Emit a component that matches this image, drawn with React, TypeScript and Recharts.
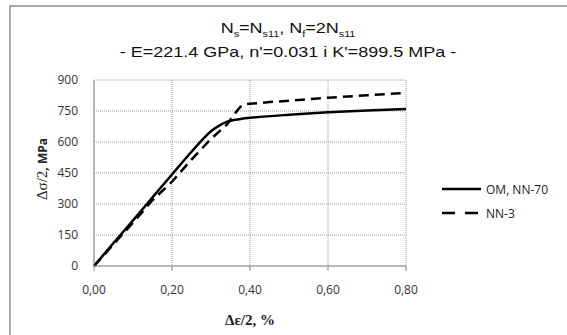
import { LineChart, Line, XAxis, YAxis, CartesianGrid, Label } from 'recharts';

// OM, NN-70 (solid)
const strainOM = [0, 0.05, 0.1, 0.15, 0.2, 0.25, 0.28, 0.3, 0.32, 0.34, 0.36, 0.38, 0.4, 0.5, 0.6, 0.7, 0.8];
const stressOM = [0, 111, 221, 332, 443, 553, 615, 652, 678, 697, 707, 713, 717, 732, 744, 753, 760];

// NN-3 (dashed)
const strainNN3 = [0, 0.05, 0.1, 0.15, 0.2, 0.25, 0.3, 0.34, 0.36, 0.375, 0.385, 0.4, 0.45, 0.5, 0.6, 0.7, 0.8];
const stressNN3 = [0, 105, 210, 318, 408, 515, 615, 683, 735, 770, 782, 785, 793, 800, 814, 826, 838];

const xTicks = [0, 0.2, 0.4, 0.6, 0.8];
const yTicks = [0, 150, 300, 450, 600, 750, 900];

const seriesNames = ['OM, NN-70', 'NN-3'];

const omData = strainOM.map((x, i) => ({ x, y: stressOM[i] }));
const nn3Data = strainNN3.map((x, i) => ({ x, y: stressNN3[i] }));

const tickFont = { fontFamily: 'Open Sans', fontSize: 12, fill: '#333' };

const YTitle = (props: any) => {
  const { viewBox } = props;
  const cx = viewBox.x + 42;
  const cy = viewBox.y + viewBox.height / 2 - 4;
  return (
    <text
      transform={`rotate(-90 ${cx} ${cy})`}
      x={cx}
      y={cy}
      textAnchor="middle"
      dominantBaseline="central"
      fill="#222"
    >
      <tspan fontFamily="Liberation Serif" fontSize={15}>Δσ/2</tspan>
      <tspan fontFamily="Open Sans" fontWeight="bold" fontSize={12}>, MPa</tspan>
    </text>
  );
};

const XTitle = (props: any) => {
  const { viewBox } = props;
  const cx = viewBox.x + viewBox.width / 2;
  const cy = viewBox.y + 54;
  return (
    <text x={cx} y={cy} textAnchor="middle" dominantBaseline="central" fill="#222"
      fontFamily="Liberation Serif" fontWeight="bold" fontSize={15}>
      Δε/2, %
    </text>
  );
};

const LegendBox = () => (
  <div style={{ position: 'absolute', left: 440, top: 177, fontFamily: 'Open Sans', fontSize: 12, color: '#222' }}>
    <div style={{ display: 'flex', alignItems: 'center', height: 24 }}>
      <svg width={46} height={6}>
        <line x1={2} y1={3} x2={41} y2={3} stroke="#000" strokeWidth={2.5} />
      </svg>
      <span>{seriesNames[0]}</span>
    </div>
    <div style={{ display: 'flex', alignItems: 'center', height: 24 }}>
      <svg width={46} height={6}>
        <line x1={2} y1={3} x2={41} y2={3} stroke="#000" strokeWidth={2.5} strokeDasharray="13 10" />
      </svg>
      <span>{seriesNames[1]}</span>
    </div>
  </div>
);

export default function App() {
  return (
    <div style={{ position: 'absolute', left: 0, top: 0, width: 567, height: 335, overflow: 'hidden', background: '#fff' }}>
      <div style={{ position: 'absolute', left: 9, top: 5, width: 700, height: 500, borderLeft: '2px solid #aaa', borderTop: '2px solid #aaa' }} />
      <div
        style={{
          position: 'absolute', left: 0, top: 19, width: 576, textAlign: 'center',
          fontFamily: 'Liberation Sans', fontSize: 15, lineHeight: '17px', color: '#111',
          transform: 'scaleX(1.2)', transformOrigin: '288px 0',
        }}
      >
        <div>
          N<sub style={{ fontSize: 9 }}>s</sub>=N<sub style={{ fontSize: 9 }}>s11</sub>, N<sub style={{ fontSize: 9 }}>f</sub>=2N<sub style={{ fontSize: 9 }}>s11</sub>
        </div>
        <div>- E=221.4 GPa, n'=0.031 i K'=899.5 MPa -</div>
      </div>
      <LineChart width={567} height={335} margin={{ top: 80, right: 161, bottom: 0, left: 0 }} style={{ position: 'absolute', left: 0, top: 0 }}>
        <CartesianGrid stroke="#9a9a9a" strokeDasharray="1 1" />
        <XAxis
          type="number"
          dataKey="x"
          domain={[0, 0.8]}
          ticks={xTicks}
          tickFormatter={(v: number) => v.toFixed(2).replace('.', ',')}
          height={69}
          tick={tickFont}
          tickSize={5}
          tickMargin={14}
          stroke="#888"
          allowDuplicatedCategory={false}
        >
          <Label content={XTitle} />
        </XAxis>
        <YAxis
          type="number"
          dataKey="y"
          domain={[0, 900]}
          ticks={yTicks}
          width={94}
          tick={tickFont}
          tickSize={0}
          tickMargin={16}
          tickLine={false}
          stroke="#888"
        >
          <Label content={YTitle} />
        </YAxis>
        <Line data={omData} dataKey="y" name={seriesNames[0]} type="monotone" stroke="#000" strokeWidth={2.5} dot={false} isAnimationActive={false} />
        <Line data={nn3Data} dataKey="y" name={seriesNames[1]} type="linear" stroke="#000" strokeWidth={2.5} strokeDasharray="10 6" dot={false} isAnimationActive={false} />
      </LineChart>
      <LegendBox />
    </div>
  );
}
